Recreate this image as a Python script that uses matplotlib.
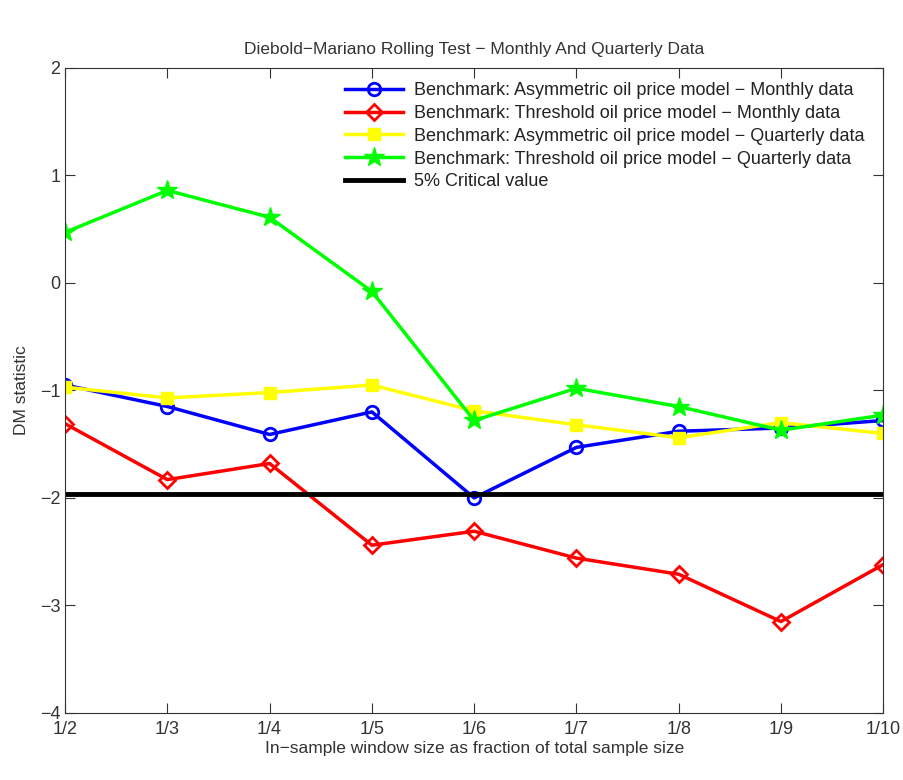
import matplotlib
matplotlib.use("Agg")
import matplotlib.pyplot as plt
import numpy as np

plt.rcParams['font.family'] = ['Liberation Sans', 'DejaVu Sans']

labels = ["1/2", "1/3", "1/4", "1/5", "1/6", "1/7", "1/8", "1/9", "1/10"]
asym_monthly = [-0.95, -1.15, -1.41, -1.20, -2.00, -1.53, -1.38, -1.35, -1.28]
thresh_monthly = [-1.31, -1.83, -1.68, -2.44, -2.31, -2.56, -2.71, -3.15, -2.62]
asym_quarterly = [-0.97, -1.07, -1.02, -0.95, -1.19, -1.32, -1.44, -1.30, -1.40]
thresh_quarterly = [0.47, 0.86, 0.61, -0.08, -1.28, -0.98, -1.15, -1.37, -1.23]
critical_value = -1.96

series_names = [
    "Benchmark: Asymmetric oil price model \u2212 Monthly data",
    "Benchmark: Threshold oil price model \u2212 Monthly data",
    "Benchmark: Asymmetric oil price model \u2212 Quarterly data",
    "Benchmark: Threshold oil price model \u2212 Quarterly data",
    "5% Critical value",
]

fig = plt.figure(figsize=(9.04, 7.8), dpi=100)
ax = fig.add_axes([0.072, 0.086, 0.905, 0.827])
x = np.arange(len(labels))

ax.plot(x, asym_monthly, color='#0000ff', lw=2.5, marker='o', ms=9,
        mfc='none', mec='#0000ff', mew=2, label=series_names[0])
ax.plot(x, thresh_monthly, color='#ff0000', lw=2.5, marker='D', ms=8,
        mfc='none', mec='#ff0000', mew=2, label=series_names[1])
ax.plot(x, asym_quarterly, color='#ffff00', lw=2.5, marker='s', ms=9,
        mfc='#ffff00', mec='#ffff00', label=series_names[2])
ax.plot(x, thresh_quarterly, color='#00ff00', lw=2.5, marker='*', ms=15,
        mfc='#00ff00', mec='#00ff00', label=series_names[3])
ax.axhline(critical_value, color='black', lw=3.5, label=series_names[4])

ax.set_xlim(0, len(labels) - 1)
ax.set_ylim(-4, 2)
ax.set_xticks(x)
ax.set_xticklabels(labels)
ax.set_yticks([-4, -3, -2, -1, 0, 1, 2])
ax.set_yticklabels(["\u22124", "\u22123", "\u22122", "\u22121", "0", "1", "2"])
ax.tick_params(direction='in', length=7, labelsize=13, top=True, right=True,
               colors='#333333')
ax.tick_params(axis='x', pad=6)
for s in ax.spines.values():
    s.set_color('#333333')

ax.set_title("Diebold\u2212Mariano Rolling Test \u2212 Monthly And Quarterly Data",
             fontsize=12.5, color='#333333', pad=10)
ax.set_xlabel("In\u2212sample window size as fraction of total sample size",
              fontsize=12.5, color='#333333', labelpad=2)
ax.set_ylabel("DM statistic", fontsize=12.5, color='#333333', labelpad=8)

leg = ax.legend(loc='upper right', bbox_to_anchor=(0.997, 1.003), frameon=False,
                fontsize=13, handlelength=3.2, handletextpad=0.6,
                labelspacing=0.32, borderaxespad=0.5)
for t in leg.get_texts():
    t.set_color('#222222')

fig.savefig("out.png", dpi=100)
